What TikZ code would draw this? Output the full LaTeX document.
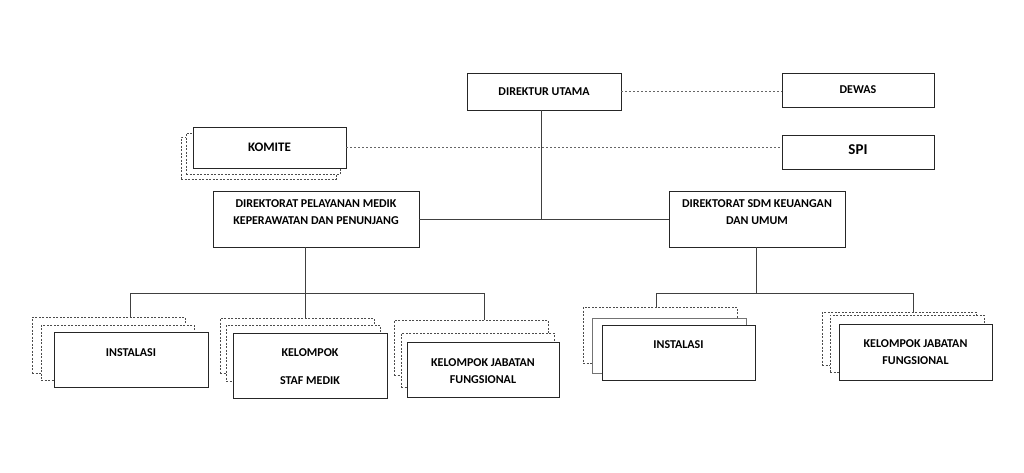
\documentclass[tikz,border=0pt]{standalone}
\usepackage{fontspec}
\setmainfont{Carlito}
\begin{document}
\begin{tikzpicture}[x=1pt,y=-1pt,
  box/.style={draw=black!85, line width=0.9pt, fill=white, inner sep=0pt},
  grey box/.style={draw=black!55, line width=0.9pt, fill=white, inner sep=0pt},
  back box/.style={draw=black!70, dash pattern=on 2pt off 1.5pt, line width=0.8pt, fill=white, inner sep=0pt},
  conn/.style={draw=black!75, line width=0.9pt},
  dotconn/.style={draw=black!60, dash pattern=on 2pt off 2pt, line width=0.8pt},
  lbl/.style={font=\bfseries\fontsize{12}{17}\selectfont, align=center, inner sep=0pt, text=black},
  big/.style={font=\bfseries\fontsize{15}{17}\selectfont, inner sep=0pt, text=black}]
\useasboundingbox (0,0) rectangle (1024,472);

% top level
\node[box, minimum width=154pt, minimum height=37pt] (du) at (544,91.5) {};
\node[lbl] (dut) at (du.center) {DIREKTUR UTAMA};
\node[box, minimum width=152pt, minimum height=34pt] (dewas) at (858,90) {};
\node[lbl] (dewast) at (dewas.center) {DEWAS};
\node[box, minimum width=152pt, minimum height=34pt] (spi) at (858,152) {};
\node[big] (spit) at (858,150) {SPI};

% KOMITE
\node[back box, minimum width=155pt, minimum height=42pt] (kmc) at (258.5,158) {};
\node[back box, minimum width=154pt, minimum height=41pt] (kmb) at (263,153.5) {};
\node[box, minimum width=153pt, minimum height=41pt] (km) at (269.5,147.5) {};
\node[lbl, font=\bfseries\fontsize{13}{17}\selectfont] (kmt) at (269.5,147) {KOMITE};

% directorates
\node[box, minimum width=206pt, minimum height=56pt] (dp) at (316,219) {};
\node[lbl] (dpt) at (316,212.5) {DIREKTORAT PELAYANAN MEDIK\\KEPERAWATAN DAN PENUNJANG};
\node[box, minimum width=176pt, minimum height=56pt] (ds) at (757,219) {};
\node[lbl] (dst) at (757,212.5) {DIREKTORAT SDM KEUANGAN\\DAN UMUM};

% left group
\node[back box, minimum width=153pt, minimum height=56pt] (i1c) at (108.5,345) {};
\node[back box, minimum width=153pt, minimum height=55pt] (i1b) at (117.5,352.5) {};
\node[box, minimum width=154pt, minimum height=55pt] (i1) at (131,359.5) {};
\node[lbl] (i1t) at (131,353) {INSTALASI};

\node[back box, minimum width=154pt, minimum height=55pt] (k1c) at (297,345.5) {};
\node[back box, minimum width=154pt, minimum height=56pt] (k1b) at (303,353) {};
\node[box, minimum width=154pt, minimum height=65pt] (k1) at (310,365.5) {};
\node[lbl] (k1t1) at (310,353) {KELOMPOK};
\node[lbl] (k1t2) at (310,381) {STAF MEDIK};

\node[back box, minimum width=154pt, minimum height=55pt] (j1c) at (471,347.5) {};
\node[back box, minimum width=153pt, minimum height=54pt] (j1b) at (477.5,360) {};
\node[box, minimum width=152pt, minimum height=55pt] (j1) at (483,369.5) {};
\node[lbl] (j1t) at (483,371.5) {KELOMPOK JABATAN\\FUNGSIONAL};

% right group
\node[back box, minimum width=154pt, minimum height=56pt] (i2c) at (660,335) {};
\node[grey box, minimum width=154pt, minimum height=55pt] (i2b) at (669,345.5) {};
\node[box, minimum width=153pt, minimum height=55pt] (i2) at (678.5,352.5) {};
\node[lbl] (i2t) at (678.5,345) {INSTALASI};

\node[back box, minimum width=154pt, minimum height=53pt] (j2c) at (899,338.5) {};
\node[back box, minimum width=154pt, minimum height=57pt] (j2b) at (907,343.5) {};
\node[box, minimum width=153pt, minimum height=56pt] (j2) at (915.5,352) {};
\node[lbl] (j2t) at (915.5,352.5) {KELOMPOK JABATAN\\FUNGSIONAL};

% connectors
\draw[dotconn] (du.east) -- (du.east -| dewas.west);
\draw[dotconn] (km.east) -- (km.east -| spi.west);
\coordinate (jt) at (541,219);
\draw[conn] (du.south -| jt) -- (jt);
\draw[conn] (dp.east) -- (ds.west);

\coordinate (jl) at (305,293);
\coordinate (jl1) at (130,293);
\coordinate (jl3) at (484,293);
\draw[conn] (dp.south -| jl) -- (jl);
\draw[conn] (jl1) -- (jl3);
\draw[conn] (jl1) -- (jl1 |- i1c.north);
\draw[conn] (jl) -- (jl |- k1c.north);
\draw[conn] (jl3) -- (jl3 |- j1c.north);

\coordinate (jr) at (756,293);
\coordinate (jr1) at (656,293);
\coordinate (jr2) at (913,293);
\draw[conn] (ds.south -| jr) -- (jr);
\draw[conn] (jr1) -- (jr2);
\draw[conn] (jr1) -- (jr1 |- i2c.north);
\draw[conn] (jr2) -- (jr2 |- j2c.north);
\end{tikzpicture}
\end{document}
